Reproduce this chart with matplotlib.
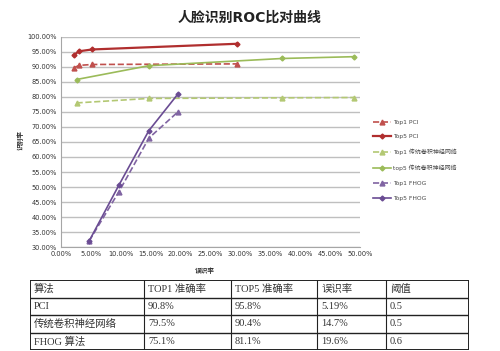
import matplotlib.pyplot as plt
import numpy as np

plt.rcParams['font.family'] = ['DejaVu Sans', 'Noto Sans CJK SC']

# data (x = false accept rate %, y = recognition rate %)
pci_x = [2.2, 3.0, 5.2, 29.5]
top1_pci = [89.7, 90.5, 90.8, 91.0]
top5_pci = [94.0, 95.2, 95.8, 97.7]

cnn_x = [2.6, 14.7, 37.0, 49.0]
top1_cnn = [78.0, 79.5, 79.7, 79.8]
top5_cnn = [85.8, 90.4, 92.8, 93.4]

fhog_x = [4.7, 9.7, 14.7, 19.6]
top1_fhog = [32.0, 48.5, 66.3, 75.1]
top5_fhog = [32.0, 50.7, 68.8, 81.1]

labels = ["Top1 PCI", "Top5 PCI", "Top1 传统卷积神经网络", "top5 传统卷积神经网络", "Top1 FHOG", "Top5 FHOG"]

xticks = np.arange(0, 51, 5)
yticks = np.arange(30, 101, 5)

table_rows = [
    ["算法", "TOP1 准确率", "TOP5 准确率", "误识率", "阈值"],
    ["PCI", "90.8%", "95.8%", "5.19%", "0.5"],
    ["传统卷积神经网络", "79.5%", "90.4%", "14.7%", "0.5"],
    ["FHOG 算法", "75.1%", "81.1%", "19.6%", "0.6"],
]
col_w = [114, 87, 86, 69, 83]

fig = plt.figure(figsize=(5, 3.51), dpi=100)
ax = fig.add_axes([0.122, 0.296, 0.598, 0.599])

ax.plot(pci_x, top1_pci, '--', color='#C0504D', marker='^', ms=3.5, lw=1.2, label=labels[0])
ax.plot(pci_x, top5_pci, '-', color='#B02E2E', marker='D', ms=2.5, lw=1.6, label=labels[1])
ax.plot(cnn_x, top1_cnn, '--', color='#B3C873', marker='^', ms=3.5, lw=1.2, label=labels[2])
ax.plot(cnn_x, top5_cnn, '-', color='#9BBB59', marker='D', ms=2.5, lw=1.2, label=labels[3])
ax.plot(fhog_x, top1_fhog, '--', color='#8064A2', marker='^', ms=3.5, lw=1.2, label=labels[4])
ax.plot(fhog_x, top5_fhog, '-', color='#6A4C93', marker='D', ms=2.5, lw=1.2, label=labels[5])

ax.set_xlim(0, 50)
ax.set_ylim(30, 100)
ax.set_xticks(xticks)
ax.set_yticks(yticks)
ax.set_xticklabels(["%.2f%%" % v for v in xticks], fontsize=4.8, color='#333333')
ax.set_yticklabels(["%.2f%%" % v for v in yticks], fontsize=4.8, color='#333333')
ax.tick_params(length=0, pad=3)
ax.grid(axis='y', color='#BFBFBF', lw=1.0)
ax.set_axisbelow(True)
for s in ['top', 'right']:
    ax.spines[s].set_visible(False)
ax.spines['left'].set_color('#A6A6A6')
ax.spines['bottom'].set_color('#A6A6A6')

fig.text(0.5, 0.95, "人脸识别ROC比对曲线", ha='center', va='center', fontsize=10, fontweight='bold', color='#222222')
fig.text(0.04, 0.6, "识别率", ha='center', va='center', rotation=90, fontsize=4.8, fontweight='bold', color='#333333')
fig.text(0.41, 0.23, "误识率", ha='center', va='center', fontsize=4.8, fontweight='bold', color='#333333')

fig.legend(loc='upper left', bbox_to_anchor=(0.735, 0.675), frameon=False, fontsize=4.3,
           handlelength=3, labelspacing=1.6, handletextpad=0.4, labelcolor='#444444')

# table under the chart
tax = fig.add_axes([30 / 500, 1 / 351, 439 / 500, 70 / 351])
tax.set_xlim(0, sum(col_w))
tax.set_ylim(len(table_rows), 0)
tax.axis('off')
edges = np.concatenate([[0], np.cumsum(col_w)])
for i, row in enumerate(table_rows):
    for j, txt in enumerate(row):
        tax.text(edges[j] + 4, i + 0.5, txt, ha='left', va='center', fontsize=7.5, color='#333333',
                 family=['Liberation Serif', 'Noto Sans CJK SC'])
for i in range(len(table_rows) + 1):
    tax.plot([0, sum(col_w)], [i, i], color='#222222', lw=1.0 if 0 < i < len(table_rows) else 1.4)
for k, e in enumerate(edges):
    tax.plot([e, e], [0, len(table_rows)], color='#222222', lw=1.4 if k in (0, len(edges) - 1) else 0.8)

fig.savefig("out.png", dpi=100)
